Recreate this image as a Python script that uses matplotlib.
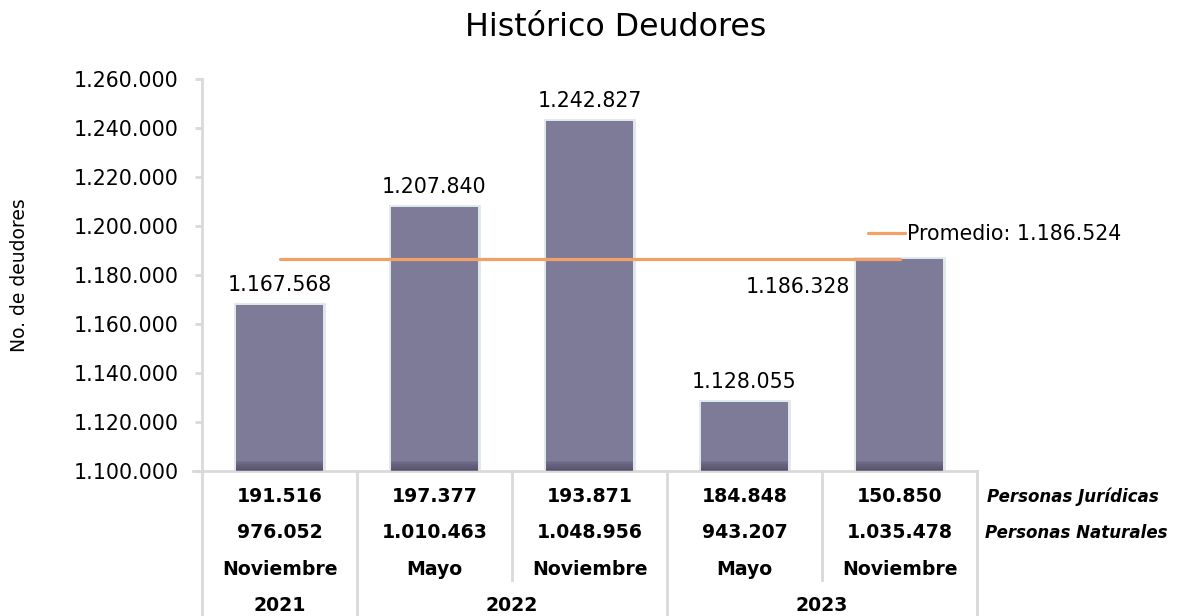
import matplotlib.pyplot as plt
import matplotlib.transforms as mtransforms
import numpy as np

# data
meses = ['Noviembre', 'Mayo', 'Noviembre', 'Mayo', 'Noviembre']
anios = ['2021', '2022', '2023']
anio_span = [1, 2, 2]  # number of periods in each year
total = [1167568, 1207840, 1242827, 1128055, 1186328]
juridicas = [191516, 197377, 193871, 184848, 150850]
naturales = [976052, 1010463, 1048956, 943207, 1035478]
promedio = 1186524

ymin, ymax = 1100000, 1260000
yticks = np.arange(ymin, ymax + 1, 20000)


def fmt(v):
    return '{:,}'.format(int(v)).replace(',', '.')


bar_color = '#7e7b98'
grid_color = '#d9d9d9'
line_color = '#f3a068'

fig = plt.figure(figsize=(11.81, 6.16), dpi=100)
ax = fig.add_axes([202 / 1181, 1 - 471 / 616, 775 / 1181, 392 / 616])

x = np.arange(len(total))
width = 0.56
heights = [v - ymin for v in total]

# soft glow behind the bars
ax.bar(x, heights, width, bottom=ymin, color='none', edgecolor='#c9d8dd',
       linewidth=3.5, alpha=0.6, zorder=1)
ax.bar(x, heights, width, bottom=ymin, color=bar_color, linewidth=0, zorder=2)
# darker band at the base of each bar
for k in range(6):
    ax.bar(x, 4200 * (k + 1) / 6, width, bottom=ymin, color='#3a3450',
           alpha=0.13, linewidth=0, zorder=3)

# average line
ax.plot([x[0], x[-1]], [promedio, promedio], color=line_color, lw=2.3,
        zorder=4, solid_capstyle='round', label='Promedio: ' + fmt(promedio))

# value labels
for i, v in enumerate(total):
    if i == len(total) - 1:
        ax.annotate(fmt(v), xy=(x[i] - width / 2, v), xytext=(-4, -20),
                    textcoords='offset points', ha='right', va='center',
                    fontsize=14.8, zorder=5)
    else:
        ax.annotate(fmt(v), xy=(x[i], v), xytext=(0, 14.5),
                    textcoords='offset points', ha='center', va='center',
                    fontsize=14.8, zorder=5)

ax.set_xlim(-0.5, len(total) - 0.5)
ax.set_ylim(ymin, ymax)
ax.set_yticks(yticks)
ax.set_yticklabels([fmt(t) for t in yticks], fontsize=14.8)
ax.set_xticks([])
ax.tick_params(axis='y', length=5, width=2, color=grid_color, pad=12)
for s in ['top', 'right', 'bottom']:
    ax.spines[s].set_visible(False)
ax.spines['left'].set_color(grid_color)
ax.spines['left'].set_linewidth(2)
ax.set_ylabel('No. de deudores', fontsize=13.5, labelpad=32)

# table below the chart
trans = mtransforms.blended_transform_factory(ax.transData, ax.transAxes)
row_y = [-0.066, -0.158, -0.252, -0.343]
bottom_y = -0.372
month_y = -0.278
lkw = dict(color=grid_color, lw=2, transform=trans, clip_on=False)
tkw = dict(transform=trans, ha='center', va='center', fontsize=13.6,
           fontweight='bold')

ax.plot([-0.56, len(total) - 0.5], [0, 0], **lkw)
for i in range(len(total)):
    ax.text(x[i], row_y[0], fmt(juridicas[i]), **tkw)
    ax.text(x[i], row_y[1], fmt(naturales[i]), **tkw)
    ax.text(x[i], row_y[2], meses[i], **tkw)

start = 0
edges = [-0.5]
for a, n in zip(anios, anio_span):
    ax.text(start + (n - 1) / 2, row_y[3], a, **tkw)
    start += n
    edges.append(start - 0.5)
for b in np.arange(-0.5, len(total)):
    if b in edges:
        ax.plot([b, b], [0, bottom_y], **lkw)
    else:
        ax.plot([b, b], [0, month_y], **lkw)

ax.text(1.013, row_y[0], 'Personas Jurídicas', transform=ax.transAxes,
        ha='left', va='center', fontsize=12, fontweight='bold', style='italic')
ax.text(1.010, row_y[1], 'Personas Naturales', transform=ax.transAxes,
        ha='left', va='center', fontsize=12, fontweight='bold', style='italic')

fig.legend(loc='center left', bbox_to_anchor=(868 / 1181, 1 - 234 / 616),
           frameon=False, fontsize=14.8, handlelength=1.8, handletextpad=0.1,
           borderpad=0, borderaxespad=0)

fig.text(616 / 1181, 1 - 27 / 616, 'Histórico Deudores', ha='center',
         va='center', fontsize=22.8)

fig.savefig('out.png', dpi=100)
